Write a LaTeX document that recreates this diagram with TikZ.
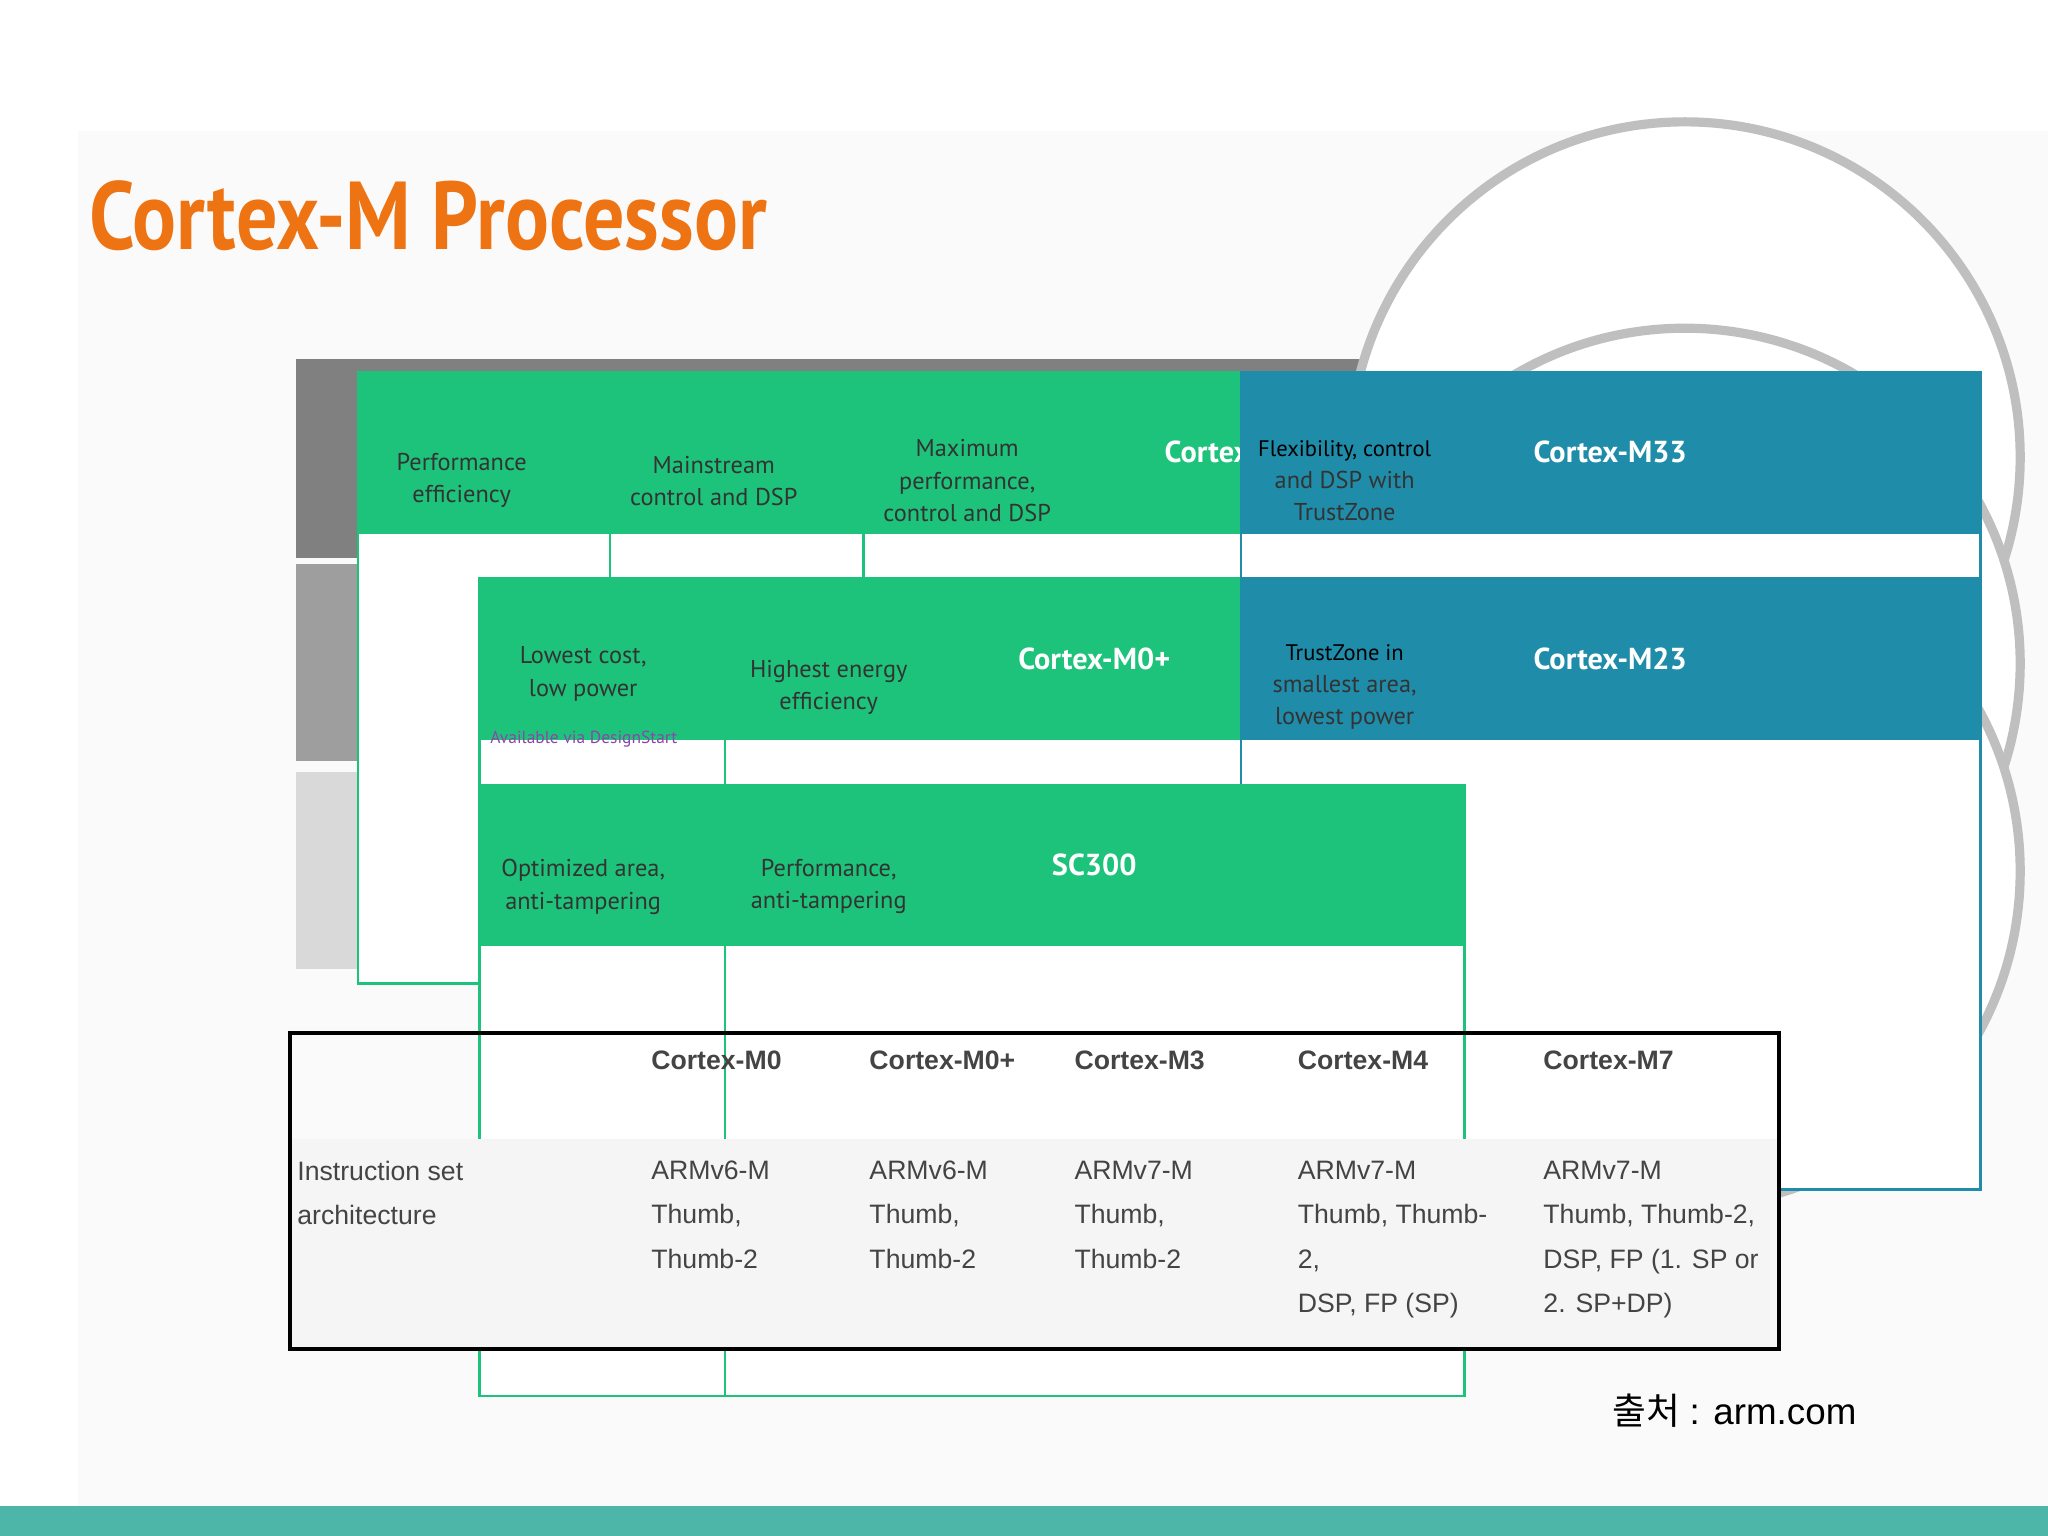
\documentclass[tikz,border=0pt]{standalone}
\usepackage{fontspec}
\setmainfont{PT Sans}
\newfontfamily\cjk{Noto Sans CJK KR}
\newfontfamily\lib{Liberation Sans}
\definecolor{grn}{HTML}{1DC37B}
\definecolor{tealh}{HTML}{1F8DAA}
\definecolor{ctext}{HTML}{2A9BB5}
\definecolor{orng}{HTML}{EE7312}
\definecolor{tbl}{HTML}{444444}
\definecolor{barc}{HTML}{4DB6A8}
\definecolor{dsc}{HTML}{8C46AA}
\begin{document}
\begin{tikzpicture}[x=0.01cm,y=-0.01cm,
 hdr/.style={fill=#1,draw=#1,minimum width=161,minimum height=35,anchor=north west,inner sep=0,text=white,font=\fontsize{6.6pt}{7pt}\bfseries},
 body/.style={fill=white,draw=grn,line width=0.6pt,minimum width=161,anchor=north west,inner sep=0,align=center,font=\fontsize{5.3pt}{7pt}\selectfont,text=black!80},
 circ/.style={circle,fill=white,draw=black!25,line width=2pt,minimum size=146,inner sep=0,align=center,text=ctext,font=\fontsize{6.4pt}{8.4pt}\selectfont},
 tt/.style={anchor=north west,align=left,text=tbl,font=\lib\fontsize{5.8pt}{9.7pt}\selectfont,inner sep=0}]
\useasboundingbox (0,0) rectangle (1568,1176);
\fill[white] (0,0) rectangle (1568,1176);
\fill[black!2] (60,100) rectangle (1568,1153);
\fill[barc] (0,1153) rectangle (1568,1176);
\node[anchor=west,text=orng,font=\fontsize{21pt}{24pt}\bfseries,inner sep=0] (title) at (68,165) {\scalebox{0.85}[1]{Cortex-M Processor}};
% bands
\fill[black!50] (227,275) rectangle (1300,427);
\fill[black!38] (227,432) rectangle (1300,583);
\fill[black!15] (227,591) rectangle (1300,742);
\node[circ] (c1) at (1290,350) {Performance\\efficiency};
\node[circ] (c2) at (1290,508) {Lowest\\power \& area};
\node[circ,font=\fontsize{8pt}{9pt}\selectfont] (c3) at (1290,667) {SecurCore};
% boxes
\newcommand\pbox[8]{%
 \node[body,minimum height=#4,draw=#6] (#1b) at (#2,#3) {};
 \node[hdr=#6] (#1) at (#2,#3) {#5};
 \node[align=center,font=\fontsize{5.3pt}{7pt}\selectfont,text=black!80] (#1t) at ({#2+80.5},{#3+84+#8}) {#7};}
\pbox{m3}{273}{284}{133}{Cortex-M3}{grn}{Performance\\efficiency}{0}
\pbox{m4}{466}{284}{133}{Cortex-M4}{grn}{Mainstream\\control and DSP}{0}
\pbox{m7}{660}{284}{133}{Cortex-M7}{grn}{Maximum\\performance,\\control and DSP}{0}
\pbox{m33}{949}{284}{133}{Cortex-M33}{tealh}{\fontsize{4.9pt}{6.6pt}\selectfont\color{black}Flexibility, control\\and DSP with\\TrustZone}{0}
\pbox{m0}{366}{442}{133}{Cortex-M0}{grn}{Lowest cost,\\low power}{-10}
\node[text=dsc,font=\fontsize{3.8pt}{4pt}\selectfont,inner sep=0] (ds) at (447,566) {Available via DesignStart};
\pbox{m0p}{554}{442}{133}{Cortex-M0+}{grn}{Highest energy\\efficiency}{0}
\pbox{m23}{949}{442}{133}{Cortex-M23}{tealh}{\fontsize{4.9pt}{6.6pt}\selectfont\color{black}TrustZone in\\smallest area,\\lowest power}{0}
\pbox{sc0}{366}{600}{133}{SC000}{grn}{Optimized area,\\anti-tampering}{-5}
\pbox{sc3}{554}{600}{133}{SC300}{grn}{Performance,\\anti-tampering}{-5}
% table
\fill[black!4] (223,872) rectangle (1361,1032);
\draw[line width=0.8pt] (222,791) rectangle (1362,1033);
\foreach \x/\t [count=\i] in {498/Cortex-M0,665/Cortex-M0+,822/Cortex-M3,993/Cortex-M4,1181/Cortex-M7}
 \node[tt,font=\lib\bfseries\fontsize{5.8pt}{7pt}\selectfont] (h\i) at (\x,804) {\t};
\node[tt] (r0) at (227,888) {Instruction set\\architecture};
\node[tt] (r1) at (498,888) {ARMv6-M\\Thumb,\\Thumb-2};
\node[tt] (r2) at (665,888) {ARMv6-M\\Thumb,\\Thumb-2};
\node[tt] (r3) at (822,888) {ARMv7-M\\Thumb,\\Thumb-2};
\node[tt] (r4) at (993,888) {ARMv7-M\\Thumb, Thumb-\\2,\\DSP, FP (SP)};
\node[tt] (r5) at (1181,888) {ARMv7-M\\Thumb, Thumb-2,\\DSP, FP (1. SP or\\2. SP+DP)};
\node[anchor=east,inner sep=0,font=\fontsize{8pt}{9pt}\selectfont] (src) at (1422,1080) {{\cjk 출처} {\lib : arm.com}};
\end{tikzpicture}
\end{document}
